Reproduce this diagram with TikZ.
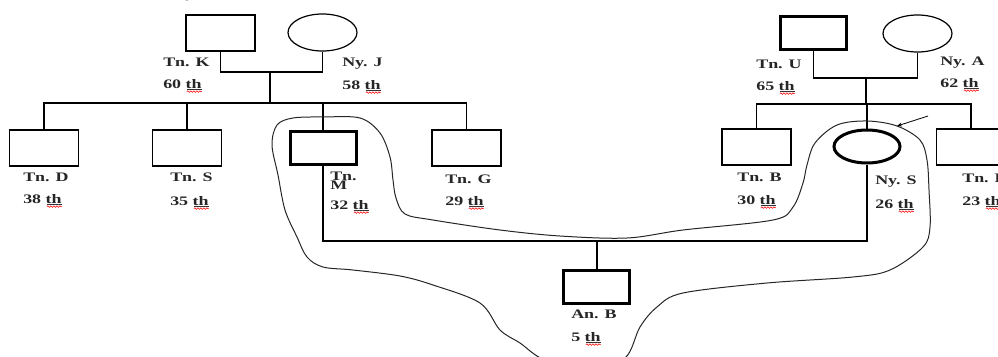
\documentclass[tikz,border=0pt]{standalone}
\usepackage{fontspec}
\setmainfont{Liberation Serif}
\usetikzlibrary{shapes.geometric,decorations.pathmorphing,arrows.meta}

\begin{document}
\begin{tikzpicture}
[every node/.style={inner sep=0pt},
 male/.style={rectangle, minimum width=69pt, minimum height=36pt, line width=1.2pt, draw=black},
 female/.style={ellipse, minimum width=69pt, minimum height=37pt, line width=1.2pt, draw=black},
 heavy/.style={line width=3pt, minimum width=66pt, minimum height=33pt},
 txt/.style={anchor=base west, xscale=1.38, text=black!85, font=\fontsize{13pt}{15pt}\selectfont\bfseries},
 spell/.style={red, line width=0.6pt, decorate, decoration={snake, amplitude=0.8pt, segment length=3pt}},
 uline/.style={line width=0.6pt, black!80},
 link/.style={line width=1.2pt, color=black}]
\useasboundingbox (0pt, 0pt) rectangle (998pt, -356pt);
\node (title) [anchor=base, font=\fontsize{20pt}{22pt}\selectfont\bfseries\itshape] at (192pt, 3pt) {y};
% left family
\node (tnK) [male] at (220.5pt, -33pt) {};
\node (nyJ) [female] at (322.5pt, -32.5pt) {};
\coordinate (kj) at (270pt, -72pt);
\coordinate (kjKids) at (270pt, -103pt);
\node (tnD) [male] at (44pt, -148pt) {};
\node (tnS) [male] at (187pt, -148pt) {};
\node (tnM) [male, heavy] at (323pt, -148pt) {};
\node (tnG) [male] at (466.5pt, -148pt) {};
\draw [link] (tnK.south) |- (kj) -| (nyJ.south);
\draw [link] (kj) -- (kjKids);
\draw [link] (tnD.north) |- (kjKids) -| (tnG.north);
\draw [link] (tnS.north) -- (tnS.north |- kjKids);
\draw [link] (tnM.north) -- (tnM.north |- kjKids);
% right family
\node (tnU) [male, heavy] at (813.5pt, -32.5pt) {};
\node (nyA) [female] at (917.5pt, -33.5pt) {};
\coordinate (ua) at (866pt, -78pt);
\coordinate (uaKids) at (866pt, -104pt);
\node (tnB) [male] at (756.5pt, -147pt) {};
\node (nyS) [female, heavy] at (867pt, -146.5pt) {};
\node (tnF) [male] at (971pt, -147pt) {};
\draw [link] (tnU.south) |- (ua) -| (nyA.south);
\draw [link] (ua) -- (uaKids);
\draw [link] (tnB.north) |- (uaKids) -| (tnF.north);
\draw [link] (nyS.north) -- (nyS.north |- uaKids);
% marriage and child
\coordinate (ms) at (597pt, -241pt);
\node (anB) [male, heavy] at (596pt, -287pt) {};
\draw [link] (tnM.south) |- (ms) -| (nyS.south);
\draw [link] (ms) -- (ms |- anB.north);
% names and ages
\node (nmK) [txt] at (163pt, -66pt) {Tn. K};
\node (agK) [txt] at (163pt, -88pt) {60 th};
\node (nmJ) [txt] at (342pt, -66pt) {Ny. J};
\node (agJ) [txt] at (342pt, -89pt) {58 th};
\node (nmD) [txt] at (23pt, -181pt) {Tn. D};
\node (agD) [txt] at (23pt, -203pt) {38 th};
\node (nmS) [txt] at (170pt, -181pt) {Tn. S};
\node (agS) [txt] at (170pt, -205pt) {35 th};
\node (nmM) [txt] at (330pt, -180pt) {Tn.};
\node (nmM2) [txt] at (330pt, -189pt) {M};
\node (agM) [txt] at (330pt, -209pt) {32 th};
\node (nmG) [txt] at (445pt, -183pt) {Tn. G};
\node (agG) [txt] at (445pt, -205pt) {29 th};
\node (nmU) [txt] at (756pt, -68pt) {Tn. U};
\node (agU) [txt] at (756pt, -90pt) {65 th};
\node (nmA) [txt] at (940pt, -65pt) {Ny. A};
\node (agA) [txt] at (940pt, -87pt) {62 th};
\node (nmB) [txt] at (737pt, -181pt) {Tn. B};
\node (agB) [txt] at (737pt, -204pt) {30 th};
\node (nmNS) [txt] at (875pt, -184pt) {Ny. S};
\node (agNS) [txt] at (875pt, -208pt) {26 th};
\node (nmF) [txt] at (962pt, -182pt) {Tn. F};
\node (agF) [txt] at (962pt, -205pt) {23 th};
\node (nmAB) [txt] at (571pt, -318pt) {An. B};
\node (agAB) [txt] at (571pt, -341pt) {5 th};
% underlines and spell-check marks under "th"
\foreach \ag in {agK, agJ, agD, agS, agM, agG, agU, agA, agB, agNS, agF, agAB} {
  \draw [uline] ([xshift=-15pt, yshift=-1.2pt]\ag.base east) -- ([yshift=-1.2pt]\ag.base east);
  \draw [spell] ([xshift=-15pt, yshift=-3.6pt]\ag.base east) -- ([yshift=-3.6pt]\ag.base east);
}
% hand-drawn outline and arrow
\draw [line width=1pt, black!85] plot [smooth cycle, tension=0.55] coordinates {
  (323pt, -117pt) (360pt, -118pt) (380pt, -133pt) (390pt, -157pt) (393pt, -180pt)
  (396pt, -198pt) (405pt, -214pt) (433pt, -220pt) (500pt, -230pt) (560pt, -236pt)
  (627pt, -238pt) (683pt, -230pt) (773pt, -220pt) (793pt, -207pt) (803pt, -183pt)
  (807pt, -165pt) (815pt, -143pt) (837pt, -125pt) (867pt, -121pt) (897pt, -126pt)
  (920pt, -140pt) (927pt, -160pt) (929pt, -190pt) (930pt, -227pt) (923pt, -247pt)
  (890pt, -270pt) (853pt, -277pt) (767pt, -283pt) (683pt, -293pt) (657pt, -307pt)
  (640pt, -327pt) (625pt, -358pt) (590pt, -368pt) (545pt, -360pt) (520pt, -343pt)
  (500pt, -330pt) (480pt, -303pt) (433pt, -285pt) (400pt, -276pt) (353pt, -270pt)
  (323pt, -267pt) (307pt, -257pt) (297pt, -237pt) (285pt, -210pt) (278pt, -175pt)
  (272pt, -145pt) (277pt, -125pt) (293pt, -118pt)};
\coordinate (pointer) at (928pt, -116pt);
\coordinate (proband) at (897pt, -126pt);
\draw [line width=0.8pt, -{Stealth[length=5pt, width=4pt]}] (pointer) -- (proband);
\end{tikzpicture}
\end{document}
